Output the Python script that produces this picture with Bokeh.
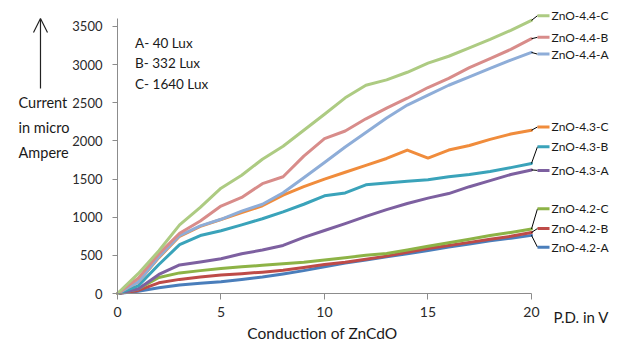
from bokeh.plotting import figure
from bokeh.models import Range1d, Label, Arrow, OpenHead, ColumnDataSource, FixedTicker
from bokeh.core.properties import value
from bokeh.embed import file_html
from bokeh.resources import INLINE

# ---------------- data ----------------
pd_volts = list(range(21))

zno_42_a = [0, 30, 75, 110, 135, 155, 185, 215, 255, 300, 350, 400, 440, 480, 520, 565, 610, 650, 690, 725, 762]
zno_42_b = [0, 40, 140, 185, 215, 241, 260, 280, 305, 340, 380, 410, 450, 490, 540, 590, 630, 670, 710, 750, 800]
zno_42_c = [0, 60, 210, 270, 300, 327, 350, 370, 390, 410, 440, 470, 500, 525, 570, 620, 665, 712, 760, 800, 845]
zno_43_a = [0, 60, 250, 375, 413, 456, 520, 570, 630, 736, 826, 917, 1010, 1100, 1180, 1250, 1310, 1400, 1480, 1560, 1620]
zno_43_b = [0, 100, 380, 640, 760, 823, 900, 980, 1070, 1170, 1280, 1318, 1425, 1447, 1470, 1490, 1530, 1560, 1600, 1650, 1705]
zno_43_c = [0, 150, 470, 750, 880, 970, 1060, 1150, 1290, 1400, 1500, 1590, 1680, 1770, 1880, 1775, 1880, 1940, 2020, 2090, 2140]
zno_44_a = [0, 150, 480, 760, 887, 973, 1080, 1170, 1320, 1517, 1718, 1920, 2110, 2300, 2470, 2600, 2730, 2840, 2950, 3060, 3160]
zno_44_b = [0, 200, 520, 790, 950, 1146, 1260, 1440, 1530, 1800, 2030, 2130, 2290, 2430, 2560, 2700, 2820, 2960, 3080, 3200, 3340]
zno_44_c = [0, 260, 560, 900, 1130, 1380, 1550, 1760, 1930, 2140, 2350, 2565, 2730, 2800, 2900, 3020, 3110, 3220, 3330, 3450, 3580]

series_names = ["ZnO-4.2-A", "ZnO-4.2-B", "ZnO-4.2-C",
                "ZnO-4.3-A", "ZnO-4.3-B", "ZnO-4.3-C",
                "ZnO-4.4-A", "ZnO-4.4-B", "ZnO-4.4-C"]
series_values = [zno_42_a, zno_42_b, zno_42_c,
                 zno_43_a, zno_43_b, zno_43_c,
                 zno_44_a, zno_44_b, zno_44_c]

x_ticks = [0, 5, 10, 15, 20]
y_ticks = [0, 500, 1000, 1500, 2000, 2500, 3000, 3500]
lux_notes = ["A- 40 Lux", "B- 332 Lux", "C- 1640 Lux"]
y_title_lines = ["Current", "in micro", "Ampere"]
x_unit_text = "P.D. in V"
x_title = "Conduction of ZnCdO"

# ---------------- styles / layout ----------------
colors = ["#4A7EBB", "#BE4B48", "#8DB346",
          "#7D60A0", "#3AA3BA", "#F08C3C",
          "#8EADD8", "#D88C8A", "#ADCB82"]
# data-label heights (layout positions, in y-axis units)
label_heights = [607, 852, 1111, 1614, 1924, 2183, 3138, 3358, 3642]
dash_x0, dash_x1, text_x = 20.29, 20.87, 20.97

FONT = "Lato"
TXT = "#1a1a1a"
AXC = "#8c8c8c"

# the plotting frame covers the whole canvas; axes are pinned at the origin
p = figure(width=614, height=344, output_backend="svg", toolbar_location=None,
           x_range=Range1d(-5.652, 24.01), y_range=Range1d(-668.5, 3840.8),
           min_border_left=0, min_border_right=0, min_border_top=0, min_border_bottom=0)
p.outline_line_color = None
p.grid.visible = False
p.background_fill_color = "white"
p.border_fill_color = "white"

for ax in (p.xaxis[0], p.yaxis[0]):
    ax.fixed_location = 0
    ax.axis_line_color = AXC
    ax.major_tick_line_color = AXC
    ax.minor_tick_line_color = None
    ax.major_tick_in = 0
    ax.major_label_text_font = FONT
    ax.major_label_text_color = "#2a2a2a"

p.xaxis.bounds = (0, 20)
p.yaxis.bounds = (0, 3600)
p.xaxis.ticker = FixedTicker(ticks=x_ticks)
p.yaxis.ticker = FixedTicker(ticks=y_ticks)
p.xaxis.major_tick_out = 6
p.yaxis.major_tick_out = 5
p.xaxis.major_label_standoff = 7
p.yaxis.major_label_standoff = 10
p.xaxis.major_label_text_font_size = "14px"
p.yaxis.major_label_text_font_size = "13px"

for name, vals, col in zip(series_names, series_values, colors):
    p.line(pd_volts, vals, line_color=col, line_width=3, line_join="round", line_cap="round")

last_vals = [v[-1] for v in series_values]
n = len(series_names)
src = ColumnDataSource(dict(
    x_end=[pd_volts[-1]] * n, y_end=last_vals,
    dx0=[dash_x0] * n, dx1=[dash_x1] * n, tx=[text_x] * n,
    ly=label_heights, name=series_names, color=colors))
p.segment(x0="x_end", y0="y_end", x1="dx0", y1="ly", source=src, line_color="black", line_width=1)
p.segment(x0="dx0", y0="ly", x1="dx1", y1="ly", source=src, line_color="color", line_width=3)
p.text(x="tx", y="ly", text="name", source=src, text_font=value(FONT), text_font_size="12px",
       text_baseline="middle", text_align="left", text_color=TXT)

# Lux notes inside the plot
for i, t in enumerate(lux_notes):
    p.add_layout(Label(x=0.85, y=3290 - i * 275, text=t, text_font=FONT, text_font_size="13.5px",
                       text_baseline="middle", text_color=TXT))

# y-axis title (left, three lines) and arrow
for i, t in enumerate(y_title_lines):
    p.add_layout(Label(x=-4.78, y=2504 - i * 328, text=t, text_font=FONT, text_font_size="14.5px",
                       text_baseline="middle", text_color=TXT))
p.add_layout(Arrow(x_start=-3.72, y_start=2687, x_end=-3.72, y_end=3605,
                   line_color="#222222", line_width=1.2,
                   end=OpenHead(size=14, line_color="#222222", line_width=1.2)))

# x-axis texts
p.add_layout(Label(x=21.06, y=-305, text=x_unit_text, text_font=FONT, text_font_size="15px",
                   text_baseline="middle", text_color=TXT))
p.add_layout(Label(x=9.9, y=-515, text=x_title, text_font=FONT, text_font_size="15.5px",
                   text_baseline="middle", text_align="center", text_color=TXT))

open("out.html", "w").write(file_html(p, INLINE))
